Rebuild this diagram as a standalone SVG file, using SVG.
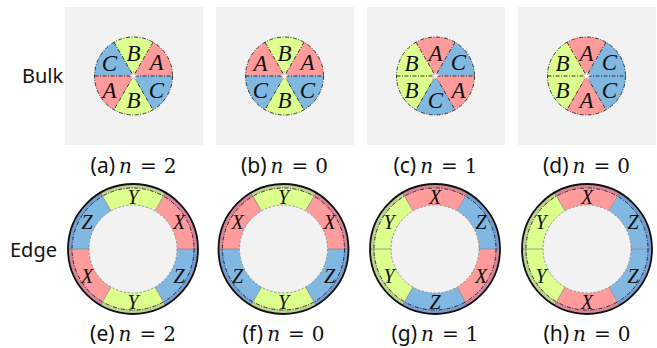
<svg xmlns="http://www.w3.org/2000/svg" xmlns:xlink="http://www.w3.org/1999/xlink" width="657" height="348" viewBox="0 0 657 348">
<style>
.bg{fill:#ffffff}
.panel{fill:#f2f2f2}
.A,.X{fill:#ff9b9b}
.B,.Y{fill:#dcff8e}
.C,.Z{fill:#80b8e2}
.dd{fill:none;stroke:#111;stroke-width:0.8;stroke-dasharray:4 1.5 1 1.5}
.seg{stroke:#8a8a8a;stroke-width:0.8;fill:none}
.band{fill:none;stroke:#5a46a0;stroke-opacity:0.25;stroke-width:4}
.outer{fill:none;stroke:#111;stroke-width:1.8}
.inner{fill:#f2f2f2;stroke:#8a8a8a;stroke-width:0.9;stroke-dasharray:2.5 1.5}
.star{fill:#fff4d8;stroke:#c7a2c8;stroke-width:0.6}
.sym{font-family:"Liberation Serif","DejaVu Serif",serif;font-style:italic;font-size:23px;fill:#111;text-anchor:middle;dominant-baseline:central}
.rsym{font-family:"Liberation Serif","DejaVu Serif",serif;font-style:italic;font-size:20px;fill:#111;text-anchor:middle;dominant-baseline:central}
.row{font-family:"Noto Sans","Open Sans",sans-serif;font-size:20px;fill:#111}
.cap{font-family:"Noto Sans","Open Sans",sans-serif;font-size:21px;fill:#111}
.m{font-family:"DejaVu Serif","Liberation Serif",serif;font-size:20px}
.mi{font-family:"DejaVu Serif","Liberation Serif",serif;font-style:italic;font-size:20px}
</style>
<defs>
<path id="s0" d="M0,0 L39,0 A39,39 0 0 0 19.5,-33.775 Z"/>
<path id="s1" d="M0,0 L19.5,-33.775 A39,39 0 0 0 -19.5,-33.775 Z"/>
<path id="s2" d="M0,0 L-19.5,-33.775 A39,39 0 0 0 -39,0 Z"/>
<path id="s3" d="M0,0 L-39,0 A39,39 0 0 0 -19.5,33.775 Z"/>
<path id="s4" d="M0,0 L-19.5,33.775 A39,39 0 0 0 19.5,33.775 Z"/>
<path id="s5" d="M0,0 L19.5,33.775 A39,39 0 0 0 39,0 Z"/>
<g id="bulkLines">
<path class="dd" d="M-39,0 H39 M-19.5,-33.775 L19.5,33.775 M19.5,-33.775 L-19.5,33.775"/>
<circle class="dd" r="39"/>
<polygon class="star" points="0,-5 1.2,-1.6 4.8,-1.5 1.9,0.6 2.9,4 0,2 -2.9,4 -1.9,0.6 -4.8,-1.5 -1.2,-1.6"/>
</g>
<path id="r0" d="M65,0 A65,65 0 0 0 32.5,-56.292 L22,-38.105 A44,44 0 0 1 44,0 Z"/>
<path id="r1" d="M32.5,-56.292 A65,65 0 0 0 -32.5,-56.292 L-22,-38.105 A44,44 0 0 1 22,-38.105 Z"/>
<path id="r2" d="M-32.5,-56.292 A65,65 0 0 0 -65,0 L-44,0 A44,44 0 0 1 -22,-38.105 Z"/>
<path id="r3" d="M-65,0 A65,65 0 0 0 -32.5,56.292 L-22,38.105 A44,44 0 0 1 -44,0 Z"/>
<path id="r4" d="M-32.5,56.292 A65,65 0 0 0 32.5,56.292 L22,38.105 A44,44 0 0 1 -22,38.105 Z"/>
<path id="r5" d="M32.5,56.292 A65,65 0 0 0 65,0 L44,0 A44,44 0 0 1 22,38.105 Z"/>
<g id="ringLines">
<path class="seg" d="M44,0 H65 M-44,0 H-65 M22,-38.105 L32.5,-56.292 M-22,-38.105 L-32.5,-56.292 M22,38.105 L32.5,56.292 M-22,38.105 L-32.5,56.292"/>
<circle class="band" r="63"/>
<circle class="dd" r="61"/>
<circle class="inner" r="44"/>
<circle class="outer" r="65"/>
</g>
</defs>
<rect class="bg" width="657" height="348"/>

<text class="row" x="22" y="83">Bulk</text>
<text class="row" x="10" y="257">Edge</text>

<g id="bulk-a">
<rect class="panel" x="65" y="7" width="138" height="138"/>
<g transform="translate(133.5,76)">
<use xlink:href="#s0" class="A"/><use xlink:href="#s1" class="B"/><use xlink:href="#s2" class="C"/>
<use xlink:href="#s3" class="A"/><use xlink:href="#s4" class="B"/><use xlink:href="#s5" class="C"/>
<use xlink:href="#bulkLines"/>
<text class="sym" x="23" y="-14">A</text><text class="sym" x="0" y="-23">B</text><text class="sym" x="-24" y="-13">C</text>
<text class="sym" x="-24" y="14">A</text><text class="sym" x="0" y="24">B</text><text class="sym" x="23" y="14">C</text>
</g>
<text class="cap" x="133.5" y="173" text-anchor="middle">(a)<tspan class="mi" dx="4">n</tspan><tspan class="m" dx="8">=</tspan><tspan class="m" dx="7">2</tspan></text>
</g>

<g id="bulk-b">
<rect class="panel" x="216" y="7" width="138" height="138"/>
<g transform="translate(284.5,76)">
<use xlink:href="#s0" class="A"/><use xlink:href="#s1" class="B"/><use xlink:href="#s2" class="A"/>
<use xlink:href="#s3" class="C"/><use xlink:href="#s4" class="B"/><use xlink:href="#s5" class="C"/>
<use xlink:href="#bulkLines"/>
<text class="sym" x="23" y="-14">A</text><text class="sym" x="0" y="-23">B</text><text class="sym" x="-24" y="-13">A</text>
<text class="sym" x="-24" y="14">C</text><text class="sym" x="0" y="24">B</text><text class="sym" x="23" y="14">C</text>
</g>
<text class="cap" x="284.5" y="173" text-anchor="middle">(b)<tspan class="mi" dx="4">n</tspan><tspan class="m" dx="8">=</tspan><tspan class="m" dx="7">0</tspan></text>
</g>

<g id="bulk-c">
<rect class="panel" x="367" y="7" width="138" height="138"/>
<g transform="translate(435.5,76)">
<use xlink:href="#s0" class="C"/><use xlink:href="#s1" class="A"/><use xlink:href="#s2" class="B"/>
<use xlink:href="#s3" class="B"/><use xlink:href="#s4" class="C"/><use xlink:href="#s5" class="A"/>
<use xlink:href="#bulkLines"/>
<text class="sym" x="23" y="-14">C</text><text class="sym" x="0" y="-23">A</text><text class="sym" x="-24" y="-13">B</text>
<text class="sym" x="-24" y="14">B</text><text class="sym" x="0" y="24">C</text><text class="sym" x="23" y="14">A</text>
</g>
<text class="cap" x="435.5" y="173" text-anchor="middle">(c)<tspan class="mi" dx="4">n</tspan><tspan class="m" dx="8">=</tspan><tspan class="m" dx="7">1</tspan></text>
</g>

<g id="bulk-d">
<rect class="panel" x="518" y="7" width="138" height="138"/>
<g transform="translate(586.5,76)">
<use xlink:href="#s0" class="C"/><use xlink:href="#s1" class="A"/><use xlink:href="#s2" class="B"/>
<use xlink:href="#s3" class="B"/><use xlink:href="#s4" class="A"/><use xlink:href="#s5" class="C"/>
<use xlink:href="#bulkLines"/>
<text class="sym" x="23" y="-14">C</text><text class="sym" x="0" y="-23">A</text><text class="sym" x="-24" y="-13">B</text>
<text class="sym" x="-24" y="14">B</text><text class="sym" x="0" y="24">A</text><text class="sym" x="23" y="14">C</text>
</g>
<text class="cap" x="586.5" y="173" text-anchor="middle">(d)<tspan class="mi" dx="4">n</tspan><tspan class="m" dx="8">=</tspan><tspan class="m" dx="7">0</tspan></text>
</g>

<g id="edge-e">
<g transform="translate(133,249)">
<use xlink:href="#r0" class="X"/><use xlink:href="#r1" class="Y"/><use xlink:href="#r2" class="Z"/>
<use xlink:href="#r3" class="X"/><use xlink:href="#r4" class="Y"/><use xlink:href="#r5" class="Z"/>
<use xlink:href="#ringLines"/>
<text class="rsym" x="46" y="-27">X</text><text class="rsym" x="0" y="-52">Y</text><text class="rsym" x="-46" y="-27">Z</text>
<text class="rsym" x="-46" y="27">X</text><text class="rsym" x="0" y="53">Y</text><text class="rsym" x="46" y="27">Z</text>
</g>
<text class="cap" x="133" y="341" text-anchor="middle">(e)<tspan class="mi" dx="4">n</tspan><tspan class="m" dx="8">=</tspan><tspan class="m" dx="7">2</tspan></text>
</g>

<g id="edge-f">
<g transform="translate(283.5,249)">
<use xlink:href="#r0" class="X"/><use xlink:href="#r1" class="Y"/><use xlink:href="#r2" class="X"/>
<use xlink:href="#r3" class="Z"/><use xlink:href="#r4" class="Y"/><use xlink:href="#r5" class="Z"/>
<use xlink:href="#ringLines"/>
<text class="rsym" x="46" y="-27">X</text><text class="rsym" x="0" y="-52">Y</text><text class="rsym" x="-46" y="-27">X</text>
<text class="rsym" x="-46" y="27">Z</text><text class="rsym" x="0" y="53">Y</text><text class="rsym" x="46" y="27">Z</text>
</g>
<text class="cap" x="283.5" y="341" text-anchor="middle">(f)<tspan class="mi" dx="4">n</tspan><tspan class="m" dx="8">=</tspan><tspan class="m" dx="7">0</tspan></text>
</g>

<g id="edge-g">
<g transform="translate(435,249)">
<use xlink:href="#r0" class="Z"/><use xlink:href="#r1" class="X"/><use xlink:href="#r2" class="Y"/>
<use xlink:href="#r3" class="Y"/><use xlink:href="#r4" class="Z"/><use xlink:href="#r5" class="X"/>
<use xlink:href="#ringLines"/>
<text class="rsym" x="46" y="-27">Z</text><text class="rsym" x="0" y="-52">X</text><text class="rsym" x="-46" y="-27">Y</text>
<text class="rsym" x="-46" y="27">Y</text><text class="rsym" x="0" y="53">Z</text><text class="rsym" x="46" y="27">X</text>
</g>
<text class="cap" x="435" y="341" text-anchor="middle">(g)<tspan class="mi" dx="4">n</tspan><tspan class="m" dx="8">=</tspan><tspan class="m" dx="7">1</tspan></text>
</g>

<g id="edge-h">
<g transform="translate(587,249)">
<use xlink:href="#r0" class="Z"/><use xlink:href="#r1" class="X"/><use xlink:href="#r2" class="Y"/>
<use xlink:href="#r3" class="Y"/><use xlink:href="#r4" class="X"/><use xlink:href="#r5" class="Z"/>
<use xlink:href="#ringLines"/>
<text class="rsym" x="46" y="-27">Z</text><text class="rsym" x="0" y="-52">X</text><text class="rsym" x="-46" y="-27">Y</text>
<text class="rsym" x="-46" y="27">Y</text><text class="rsym" x="0" y="53">X</text><text class="rsym" x="46" y="27">Z</text>
</g>
<text class="cap" x="587" y="341" text-anchor="middle">(h)<tspan class="mi" dx="4">n</tspan><tspan class="m" dx="8">=</tspan><tspan class="m" dx="7">0</tspan></text>
</g>
</svg>
